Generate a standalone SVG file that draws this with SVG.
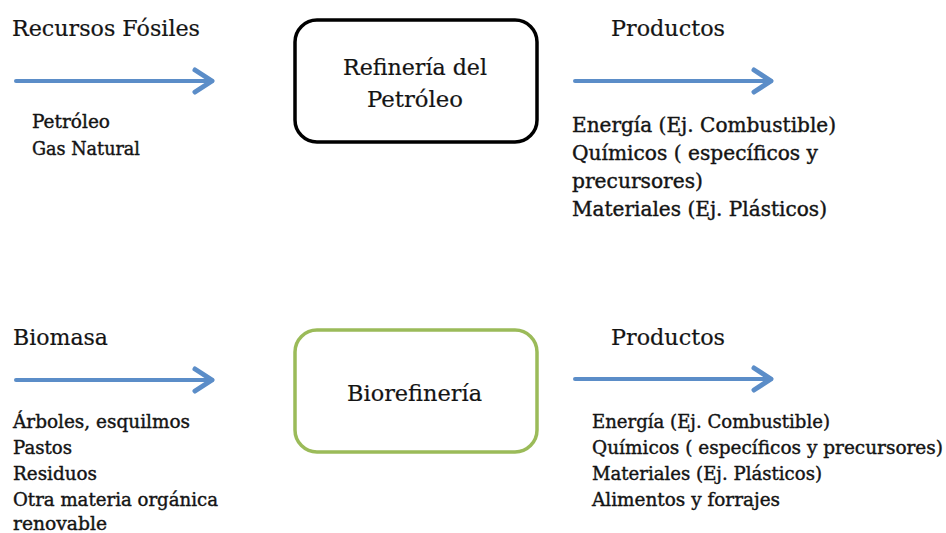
<svg xmlns="http://www.w3.org/2000/svg" width="946" height="533" viewBox="0 0 946 533">
<defs>
<style>
text{font-family:"DejaVu Serif","Liberation Serif",serif;fill:#141414;stroke:#141414;stroke-width:0.2;}
.h{font-size:22px;}
.b{font-size:23px;}
.s{font-size:18px;stroke-width:0.4;}
.m{font-size:19.5px;stroke-width:0.4;}
.box{fill:#fff;stroke-width:3.5;}
.arrow{stroke:#5B8DC8;stroke-width:4;fill:none;stroke-linecap:round;marker-end:url(#ah);}
</style>
<marker id="ah" markerUnits="userSpaceOnUse" markerWidth="30" markerHeight="30" refX="18" refY="12" orient="auto" overflow="visible">
<path d="M1,1 L18,12 L1,23" fill="none" stroke="#5B8DC8" stroke-width="5" stroke-linecap="round" stroke-linejoin="round"/>
</marker>
</defs>
<rect width="946" height="533" fill="#fff"/>
<g id="connectors">
<line class="arrow" x1="16" y1="81" x2="212" y2="81"/>
<line class="arrow" x1="575" y1="81" x2="771" y2="81"/>
<line class="arrow" x1="16" y1="380" x2="212" y2="380"/>
<line class="arrow" x1="575" y1="379" x2="771" y2="379"/>
</g>
<g id="fosiles">
<text class="h" x="12" y="36" textLength="188" lengthAdjust="spacingAndGlyphs">Recursos Fósiles</text>
<text class="s" x="32" y="128" textLength="78" lengthAdjust="spacingAndGlyphs">Petróleo</text>
<text class="s" x="32" y="155" textLength="108" lengthAdjust="spacingAndGlyphs">Gas Natural</text>
</g>
<g id="refineria">
<rect class="box" x="295" y="20" width="242" height="122" rx="22" stroke="#000"/>
<text class="b" x="343" y="75" textLength="144" lengthAdjust="spacingAndGlyphs">Refinería del</text>
<text class="b" x="367" y="107" textLength="96" lengthAdjust="spacingAndGlyphs">Petróleo</text>
</g>
<g id="productos-fosiles">
<text class="h" x="611" y="36" textLength="114" lengthAdjust="spacingAndGlyphs">Productos</text>
<text class="m" x="572" y="132" textLength="264" lengthAdjust="spacingAndGlyphs">Energía (Ej. Combustible)</text>
<text class="m" x="572" y="160" textLength="246" lengthAdjust="spacingAndGlyphs">Químicos ( específicos y</text>
<text class="m" x="572" y="188" textLength="131" lengthAdjust="spacingAndGlyphs">precursores)</text>
<text class="m" x="572" y="216" textLength="255" lengthAdjust="spacingAndGlyphs">Materiales (Ej. Plásticos)</text>
</g>
<g id="biomasa">
<text class="h" x="13" y="345" textLength="95" lengthAdjust="spacingAndGlyphs">Biomasa</text>
<text class="s" x="13" y="428" textLength="177" lengthAdjust="spacingAndGlyphs">Árboles, esquilmos</text>
<text class="s" x="13" y="454" textLength="59" lengthAdjust="spacingAndGlyphs">Pastos</text>
<text class="s" x="13" y="480" textLength="84" lengthAdjust="spacingAndGlyphs">Residuos</text>
<text class="s" x="13" y="506" textLength="205" lengthAdjust="spacingAndGlyphs">Otra materia orgánica</text>
<text class="s" x="13" y="530" textLength="94" lengthAdjust="spacingAndGlyphs">renovable</text>
</g>
<g id="biorefineria">
<rect class="box" x="295" y="330" width="242" height="122" rx="22" stroke="#9BBB59"/>
<text class="b" x="347" y="401" textLength="135" lengthAdjust="spacingAndGlyphs">Biorefinería</text>
</g>
<g id="productos-bio">
<text class="h" x="611" y="345" textLength="114" lengthAdjust="spacingAndGlyphs">Productos</text>
<text class="s" x="592" y="428" textLength="238" lengthAdjust="spacingAndGlyphs">Energía (Ej. Combustible)</text>
<text class="s" x="592" y="454" textLength="351" lengthAdjust="spacingAndGlyphs">Químicos ( específicos y precursores)</text>
<text class="s" x="592" y="480" textLength="230" lengthAdjust="spacingAndGlyphs">Materiales (Ej. Plásticos)</text>
<text class="s" x="592" y="506" textLength="188" lengthAdjust="spacingAndGlyphs">Alimentos y forrajes</text>
</g>
</svg>
